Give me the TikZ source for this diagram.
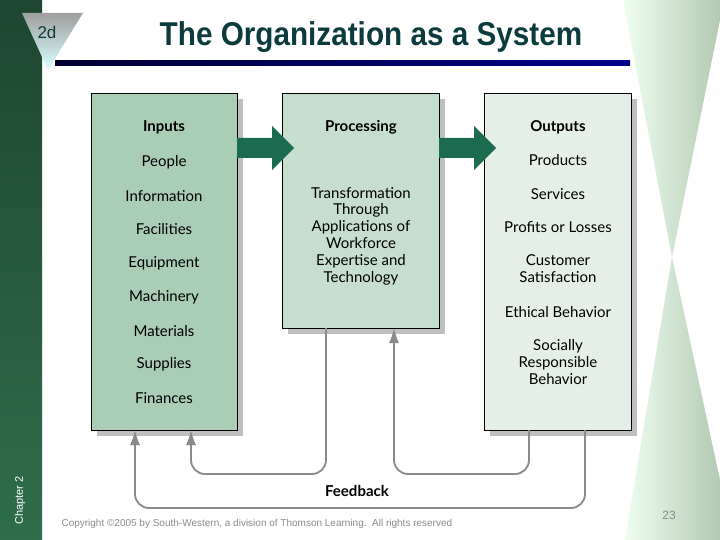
\documentclass[tikz,border=0pt]{standalone}
\usepackage{fontspec}
\setmainfont{Liberation Sans}
\newfontfamily\gill{Lato}
\usetikzlibrary{shadows,arrows.meta}
\definecolor{inpc}{HTML}{A9CDB5}
\definecolor{proc}{HTML}{C5DECD}
\definecolor{outc}{HTML}{E4F0E7}
\definecolor{bigarr}{HTML}{1B6B50}
\definecolor{fb}{HTML}{8A8A8A}
\definecolor{ttl}{HTML}{0B3B3C}
\definecolor{bandtop}{HTML}{1E4630}
\definecolor{bandbot}{HTML}{2F6E4A}
\begin{document}
\begin{tikzpicture}[x=1pt,y=-1pt,
  box/.style={draw=black,line width=1.3pt,inner sep=0pt,anchor=north west,
    drop shadow={shadow xshift=5pt,shadow yshift=-5pt,fill=black!25,opacity=1}},
  txt/.style={font=\gill\fontsize{15}{16.8}\selectfont,align=center},
  hdr/.style={font=\gill\bfseries\fontsize{15}{17}\selectfont},
  fbl/.style={draw=fb,line width=1.8pt,rounded corners=14pt},
  fba/.style={fbl,-{Latex[length=15pt,width=10pt]}}]
\useasboundingbox (0,0) rectangle (720,540);
\fill[white] (0,0) rectangle (720,540);
% left band
\shade[top color=bandtop,bottom color=bandbot] (0,0) rectangle (42,540);
\node[rotate=90,white,font=\fontsize{11}{12}\selectfont,anchor=west] (chap) at (20,528) {Chapter 2};
% right hourglass
\shade[left color=green!6,right color=green!30!black!30!white] (623,0) -- (720,0) -- (720,20) -- (672,257) -- (720,480) -- (720,540) -- (625,540) -- (672,257) -- cycle;
\node[fb,font=\fontsize{12}{13}\selectfont] (pg) at (669,515) {23};
% triangle
\shade[top color=gray!75,bottom color=white!85!cyan] (22,13) -- (83,13) -- (48,70) -- cycle;
\node[ttl,font=\fontsize{17}{18}\selectfont] (ch) at (47,32) {2d};
% title
\node[ttl] (title) at (371,37) {\scalebox{0.9}[1]{\fontsize{33}{36}\selectfont\bfseries The Organization as a System}};
\shade[left color=black!80!blue,right color=blue!55!black] (55,61) rectangle (630,66);
% boxes
\node[box,fill=inpc,minimum width=146pt,minimum height=337pt] (in) at (91,93) {};
\node[box,fill=proc,minimum width=157pt,minimum height=235pt] (pr) at (282,93) {};
\node[box,fill=outc,minimum width=147pt,minimum height=337pt] (out) at (484,93) {};
% big arrows
\fill[bigarr] (237,138) -- (272,138) -- (272,126) -- (294,148) -- (272,170) -- (272,158) -- (237,158) -- cycle;
\fill[bigarr] (439,138) -- (474,138) -- (474,126) -- (496,148) -- (474,170) -- (474,158) -- (439,158) -- cycle;
% inputs text
\node[hdr] (ih) at (164,127) {Inputs};
\foreach \t/\y [count=\i] in {People/162,Information/196,Facilities/229,Equipment/263,Machinery/297,Materials/331,Supplies/364,Finances/398}
  \node[txt] (i\i) at (164,\y) {\t};
\node[hdr] (ph) at (361,127) {Processing};
\node[txt] (pt) at (361,236) {Transformation\\Through\\Applications of\\Workforce\\Expertise and\\Technology};
\node[hdr] (oh) at (558,127) {Outputs};
\node[txt] (o1) at (558,160) {Products};
\node[txt] (o2) at (558,194) {Services};
\node[txt] (o3) at (558,227) {Profits or Losses};
\node[txt] (o4) at (558,269) {Customer\\Satisfaction};
\node[txt] (o5) at (558,312) {Ethical Behavior};
\node[txt] (o6) at (558,362) {Socially\\Responsible\\Behavior};
% feedback
\coordinate (a1) at (585,430); \coordinate (a2) at (135,430);
\coordinate (b1) at (326,328); \coordinate (b2) at (191,430);
\coordinate (c1) at (529,430); \coordinate (c2) at (394,328);
\draw[fba] (a1) -- (585,508) -- (135,508) -- (a2);
\draw[fba] (b1) -- (326,474) -- (191,474) -- (b2);
\draw[fba] (c1) -- (529,474) -- (394,474) -- (c2);
\node[hdr] (fbk) at (357,491) {Feedback};
\node[fb,font=\fontsize{10}{11}\selectfont,anchor=west] (copy) at (58,524) {Copyright \textcopyright2005 by South-Western, a division of Thomson Learning.\ \ All rights reserved};
\end{tikzpicture}
\end{document}
